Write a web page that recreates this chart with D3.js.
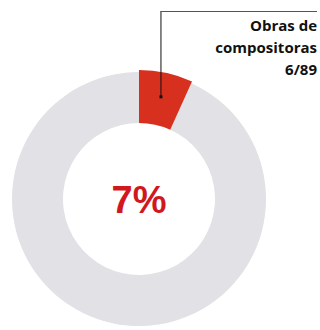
<!DOCTYPE html>
<html>
<head>
<meta charset="utf-8">
<script src="https://cdn.jsdelivr.net/npm/d3@7"></script>
<style>
  html, body { margin: 0; padding: 0; background: #fff; }
  svg { display: block; }
</style>
</head>
<body>
<svg id="chart" width="320" height="330"></svg>
<script>
// Works by women composers versus the rest of the catalogue
const categories = ["Obras de compositoras", "Resto"];
const counts = [6, 83];
const labelLines = ["Obras de", "compositoras", "6/89"];
const centerLabel = "7%";

const W = 320, H = 330;
const cx = 139, cy = 199;
const innerR = 76, outerR = 127;

const svg = d3.select("#chart");
const g = svg.append("g").attr("transform", `translate(${cx},${cy})`);

const pie = d3.pie().sort(null).value(d => d)(counts);
const colors = d3.scaleOrdinal().domain(categories).range(["#d7301f", "#e1e1e6"]);

const arcBase = d3.arc().innerRadius(innerR).outerRadius(outerR);
const arcHi = d3.arc().innerRadius(innerR).outerRadius(outerR + 2);

// Ring: grey remainder first, highlighted slice on top
const order = [1, 0];
g.selectAll("path.slice")
  .data(order.map(i => ({ a: pie[i], c: categories[i], i })))
  .join("path")
  .attr("class", "slice")
  .attr("d", d => (d.i === 0 ? arcHi : arcBase)(d.a))
  .attr("fill", d => colors(d.c));

// Percentage in the hole
g.append("text")
  .attr("x", 0)
  .attr("y", 14)
  .attr("text-anchor", "middle")
  .attr("font-family", "Liberation Sans, Arial, sans-serif")
  .attr("font-weight", "bold")
  .attr("font-size", 38)
  .attr("fill", "#d0181e")
  .text(centerLabel);

// Leader from the highlighted slice to its label
const hl = pie[0];
const mid = (hl.startAngle + hl.endAngle) / 2;
const anchorR = (innerR + outerR) / 2 + 3;
const ax = cx + Math.sin(mid) * anchorR;
const ay = cy - Math.cos(mid) * anchorR;
const lineY = 11;

svg.append("path")
  .attr("d", `M${ax},${ay}V${lineY}`)
  .attr("stroke", "#111")
  .attr("stroke-width", 1)
  .attr("fill", "none");
svg.append("path")
  .attr("d", `M${ax},${lineY + 0.5}H${W - 3}`)
  .attr("stroke", "#555")
  .attr("stroke-width", 1)
  .attr("fill", "none");
svg.append("rect")
  .attr("x", ax - 1.5).attr("y", ay - 1.5)
  .attr("width", 3).attr("height", 3)
  .attr("fill", "#111");

svg.append("g")
  .selectAll("text")
  .data(labelLines)
  .join("text")
  .attr("x", W - 3)
  .attr("y", (d, i) => 31 + i * 22)
  .attr("text-anchor", "end")
  .attr("font-family", "'Open Sans', sans-serif")
  .attr("font-weight", "bold")
  .attr("font-size", 15)
  .attr("fill", "#111")
  .text(d => d);
</script>
</body>
</html>
